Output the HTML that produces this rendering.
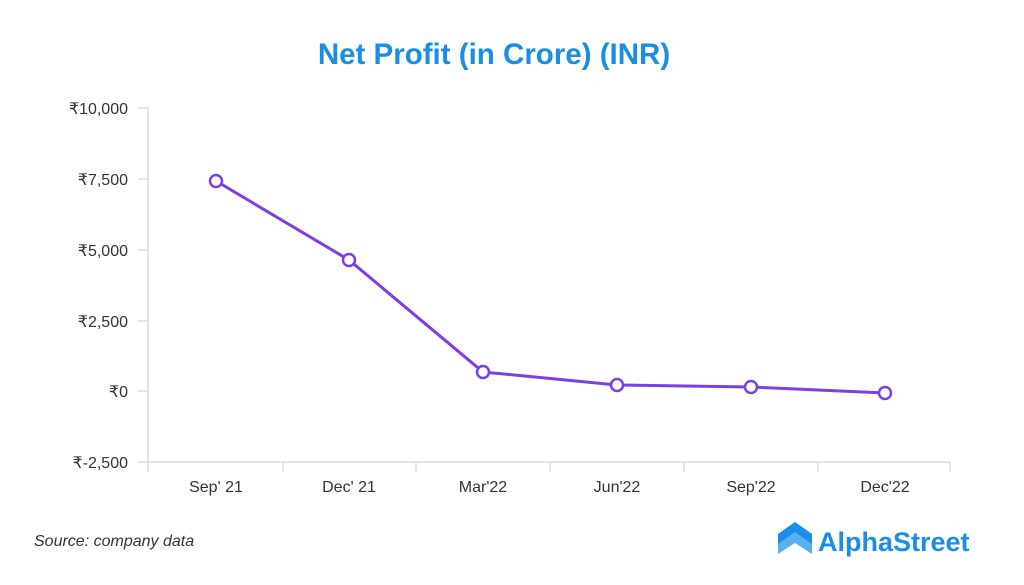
<!DOCTYPE html>
<html><head><meta charset="utf-8"><style>
html,body{margin:0;padding:0;background:#fff;width:1024px;height:585px;overflow:hidden}
svg{display:block}
text{font-family:"Liberation Sans",sans-serif}
</style></head><body>
<svg width="1024" height="585" viewBox="0 0 1024 585">
<text x="494" y="64" text-anchor="middle" font-size="29.5" font-weight="bold" fill="#1a8ee6">Net Profit (in Crore) (INR)</text>
<g stroke="#dcdcdc" stroke-width="1.5" fill="none">
<line x1="148" y1="106" x2="148" y2="462"/>
<line x1="148" y1="462" x2="950" y2="462"/>
<line x1="138" y1="108" x2="148" y2="108"/>
<line x1="138" y1="179" x2="148" y2="179"/>
<line x1="138" y1="250" x2="148" y2="250"/>
<line x1="138" y1="321" x2="148" y2="321"/>
<line x1="138" y1="391" x2="148" y2="391"/>
<line x1="138" y1="462" x2="148" y2="462"/>
<line x1="148" y1="462" x2="148" y2="472"/>
<line x1="283" y1="462" x2="283" y2="472"/>
<line x1="416" y1="462" x2="416" y2="472"/>
<line x1="550" y1="462" x2="550" y2="472"/>
<line x1="684" y1="462" x2="684" y2="472"/>
<line x1="818" y1="462" x2="818" y2="472"/>
<line x1="950" y1="462" x2="950" y2="472"/>
</g>
<g font-size="16" fill="#333" text-anchor="end">
<text x="128" y="114">₹10,000</text>
<text x="128" y="185">₹7,500</text>
<text x="128" y="256">₹5,000</text>
<text x="128" y="327">₹2,500</text>
<text x="128" y="397">₹0</text>
<text x="128" y="468">₹-2,500</text>
</g>
<g font-size="16" fill="#333" text-anchor="middle">
<text x="216" y="492">Sep' 21</text>
<text x="349" y="492">Dec' 21</text>
<text x="483" y="492">Mar'22</text>
<text x="617" y="492">Jun'22</text>
<text x="751" y="492">Sep'22</text>
<text x="885" y="492">Dec'22</text>
</g>
<polyline points="216,181 349,260 483,372 617,385 751,387 885,393" fill="none" stroke="#7b3fe4" stroke-width="3"/>
<g fill="#fff" stroke="#7b3fe4" stroke-width="2.5">
<circle cx="216" cy="181" r="6"/><circle cx="349" cy="260" r="6"/><circle cx="483" cy="372" r="6"/>
<circle cx="617" cy="385" r="6"/><circle cx="751" cy="387" r="6"/><circle cx="885" cy="393" r="6"/>
</g>
<text x="34" y="546" font-size="16" font-style="italic" fill="#333">Source: company data</text>
<g transform="translate(778,522)">
<polygon points="0,12 17,0 34,12 34,24 17,12 0,24" fill="#1a8ee6"/>
<polygon points="0,22 17,10 34,22 34,32 17,21 0,32" fill="#5ab0ee"/>
</g>
<text x="818" y="551" font-size="27" font-weight="bold" fill="#1a8ee6">AlphaStreet</text>
</svg>
</body></html>
